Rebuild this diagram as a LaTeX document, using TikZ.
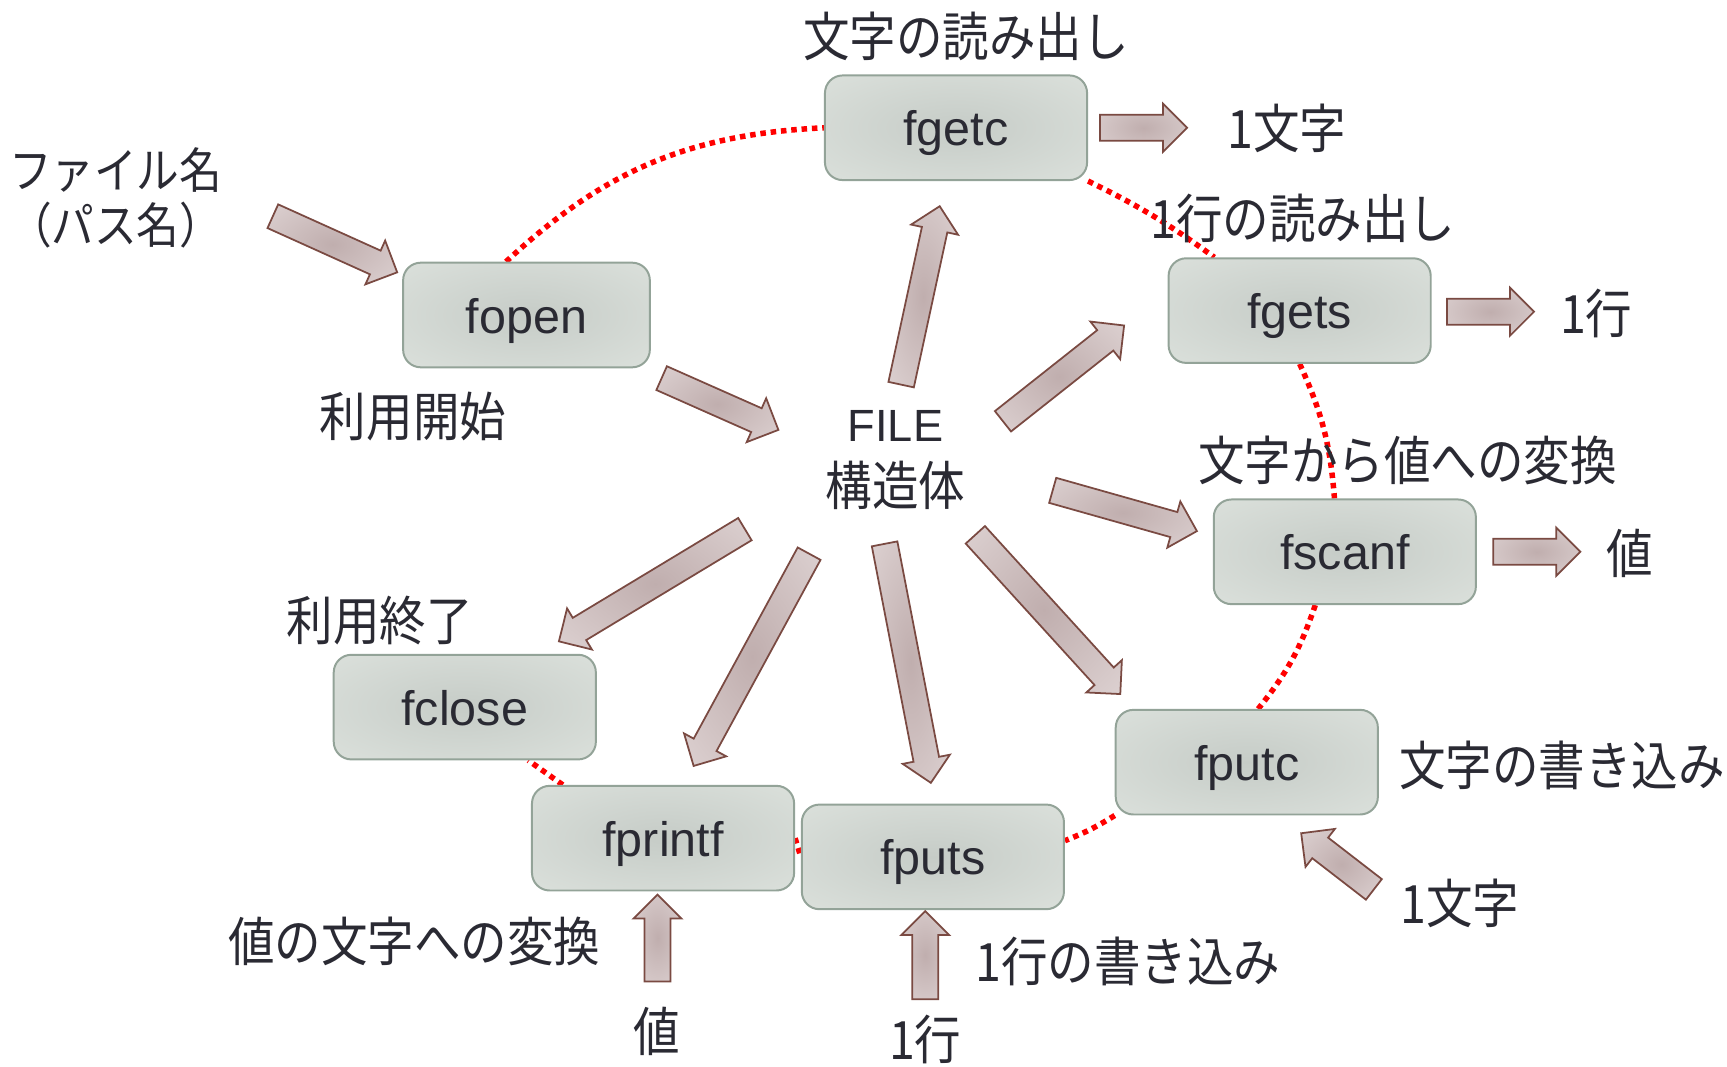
\documentclass[tikz,border=0pt]{standalone}
\usepackage{fontspec}
\setmainfont{Liberation Sans}
\newfontfamily\jpfont[FakeStretch=0.88]{Noto Sans CJK JP}
\usetikzlibrary{shapes.arrows,calc,backgrounds}

\definecolor{ink}{HTML}{2A2A33}
\definecolor{boxmid}{HTML}{C6CCC7}
\definecolor{boxedge}{HTML}{E3E8E3}
\definecolor{boxline}{HTML}{93A398}
\definecolor{arrowmid}{HTML}{C0AEAE}
\definecolor{arrowedge}{HTML}{E8DFDF}
\definecolor{arrowline}{HTML}{7A4A42}

\pgfdeclareradialshading{boxshade}{\pgfpoint{0bp}{0bp}}{color(0bp)=(boxmid); color(50bp)=(boxedge)}
\pgfdeclareradialshading{arrowshade}{\pgfpoint{0bp}{0bp}}{color(0bp)=(arrowmid); color(50bp)=(arrowedge)}

\tikzset{
  func/.style={rectangle, rounded corners=8pt, draw=boxline, line width=0.9pt, shade, shading=boxshade,
    minimum width=119pt, minimum height=47.5pt, text height=20pt, text depth=3.6pt,
    text=ink, font=\fontsize{22}{26}\selectfont},
  note/.style={text=ink, font=\jpfont\fontsize{24}{27}\selectfont, inner sep=0pt},
  fatarrow/.style={single arrow, draw=arrowline, line width=0.8pt, shade, shading=arrowshade,
    inner xsep=0pt, inner ysep=5.5pt, single arrow head extend=5pt},
  ring/.style={red, line width=2.5pt, dash pattern=on 2.5pt off 2.2pt},
}

% block arrow from #1 (tail) to #2 (tip)
\newcommand{\fatarrow}[2]{%
  \path let \p1=(#1), \p2=(#2),
    \n1={atan2(\y2-\y1,\x2-\x1)}, \n2={veclen(\x2-\x1,\y2-\y1)} in
    node[fatarrow, anchor=tail, rotate=\n1, minimum height=\n2] at (#1) {};}

\begin{document}
\begin{tikzpicture}[x=0.5pt, y=-0.5pt]
	\useasboundingbox (0,0) rectangle (1568,968);
	% functions
	\node[func] (fgetc) at (868,116) {fgetc};
	\node[func, minimum width=112pt] (fopen) at (478,286) {fopen};
	\node[func] (fgets) at (1180,282) {fgets};
	\node[func] (fscanf) at (1221,501) {fscanf};
	\node[func] (fputc) at (1132,692) {fputc};
	\node[func] (fclose) at (422,642) {fclose};
	\node[func] (fprintf) at (602,761) {fprintf};
	\node[func] (fputs) at (847,778) {fputs};
	\node[text=ink, align=center, font=\fontsize{20.5}{29}\selectfont] (file) at (813,418) {FILE\\{\jpfont\fontsize{24}{29}\selectfont 構造体}};
	% texts
	\node[note] (readc) at (877,33) {文字の読み出し};
	\node[note, anchor=west] (outc) at (1114,117) {1文字};
	\node[note, align=center, font=\jpfont\fontsize{22}{25}\selectfont] (fname) at (105,180) {ファイル名\\（パス名）};
	\node[note] (start) at (375,378) {利用開始};
	\node[note] (readl) at (1183,198) {1行の読み出し};
	\node[note, anchor=west] (outl) at (1416,285) {1行};
	\node[note] (conv) at (1278,418) {文字から値への変換};
	\node[note] (outv) at (1480,502) {値};
	\node[note] (stop) at (345,563) {利用終了};
	\node[note, anchor=west] (writec) at (1270,695) {文字の書き込み};
	\node[note, anchor=west] (inc) at (1271,820) {1文字};
	\node[note] (fmt) at (376,855) {値の文字への変換};
	\node[note] (inv) at (596,936) {値};
	\node[note] (inl) at (840,944) {1行};
	\node[note, anchor=west] (writel) at (885,873) {1行の書き込み};
	% ring
	\begin{scope}[on background layer]
		\draw[ring] (fopen.111) to[bend left=20] (fgetc.west);
		\draw[ring] (fgetc.south east) to[bend left=5] (fgets.148);
		\draw[ring] (fgets.south) to[bend left=10] (fscanf.101);
		\draw[ring] (fscanf.241) to[bend left=10] (fputc.78);
		\draw[ring] (fputc.south west) to[bend left=5] (fputs.7);
		\draw[ring] (fprintf.east) -- (fputs.west);
		\draw[ring] (fprintf.152) -- (fclose.320);
	\end{scope}
	% arrow ends
	\coordinate (n1) at (247,196); \coordinate (o1) at (360,247);
	\coordinate (n2) at (600,343); \coordinate (o2) at (706,390);
	\coordinate (n3) at (818,350); \coordinate (o3) at (853,188);
	\coordinate (n4) at (910,383); \coordinate (o4) at (1020,296);
	\coordinate (n5) at (955,445); \coordinate (o5) at (1086,482);
	\coordinate (n6) at (885,485); \coordinate (o6) at (1017,630);
	\coordinate (n7) at (803,493); \coordinate (o7) at (845,710);
	\coordinate (n8) at (735,502); \coordinate (o8) at (630,695);
	\coordinate (n9) at (677,480); \coordinate (o9) at (508,582);
	\coordinate (n10) at (998,116); \coordinate (o10) at (1077,116);
	\coordinate (n11) at (1313,283); \coordinate (o11) at (1392,283);
	\coordinate (n12) at (1355,501); \coordinate (o12) at (1434,501);
	\coordinate (n13) at (597,892); \coordinate (o13) at (597,813);
	\coordinate (n14) at (840,908); \coordinate (o14) at (840,828);
	\coordinate (n15) at (1248,808); \coordinate (o15) at (1182,757);
	% arrows
	\fatarrow{n1}{o1} \fatarrow{n2}{o2} \fatarrow{n3}{o3}
	\fatarrow{n4}{o4} \fatarrow{n5}{o5} \fatarrow{n6}{o6}
	\fatarrow{n7}{o7} \fatarrow{n8}{o8} \fatarrow{n9}{o9}
	\fatarrow{n10}{o10} \fatarrow{n11}{o11} \fatarrow{n12}{o12}
	\fatarrow{n13}{o13} \fatarrow{n14}{o14} \fatarrow{n15}{o15}
\end{tikzpicture}
\end{document}
